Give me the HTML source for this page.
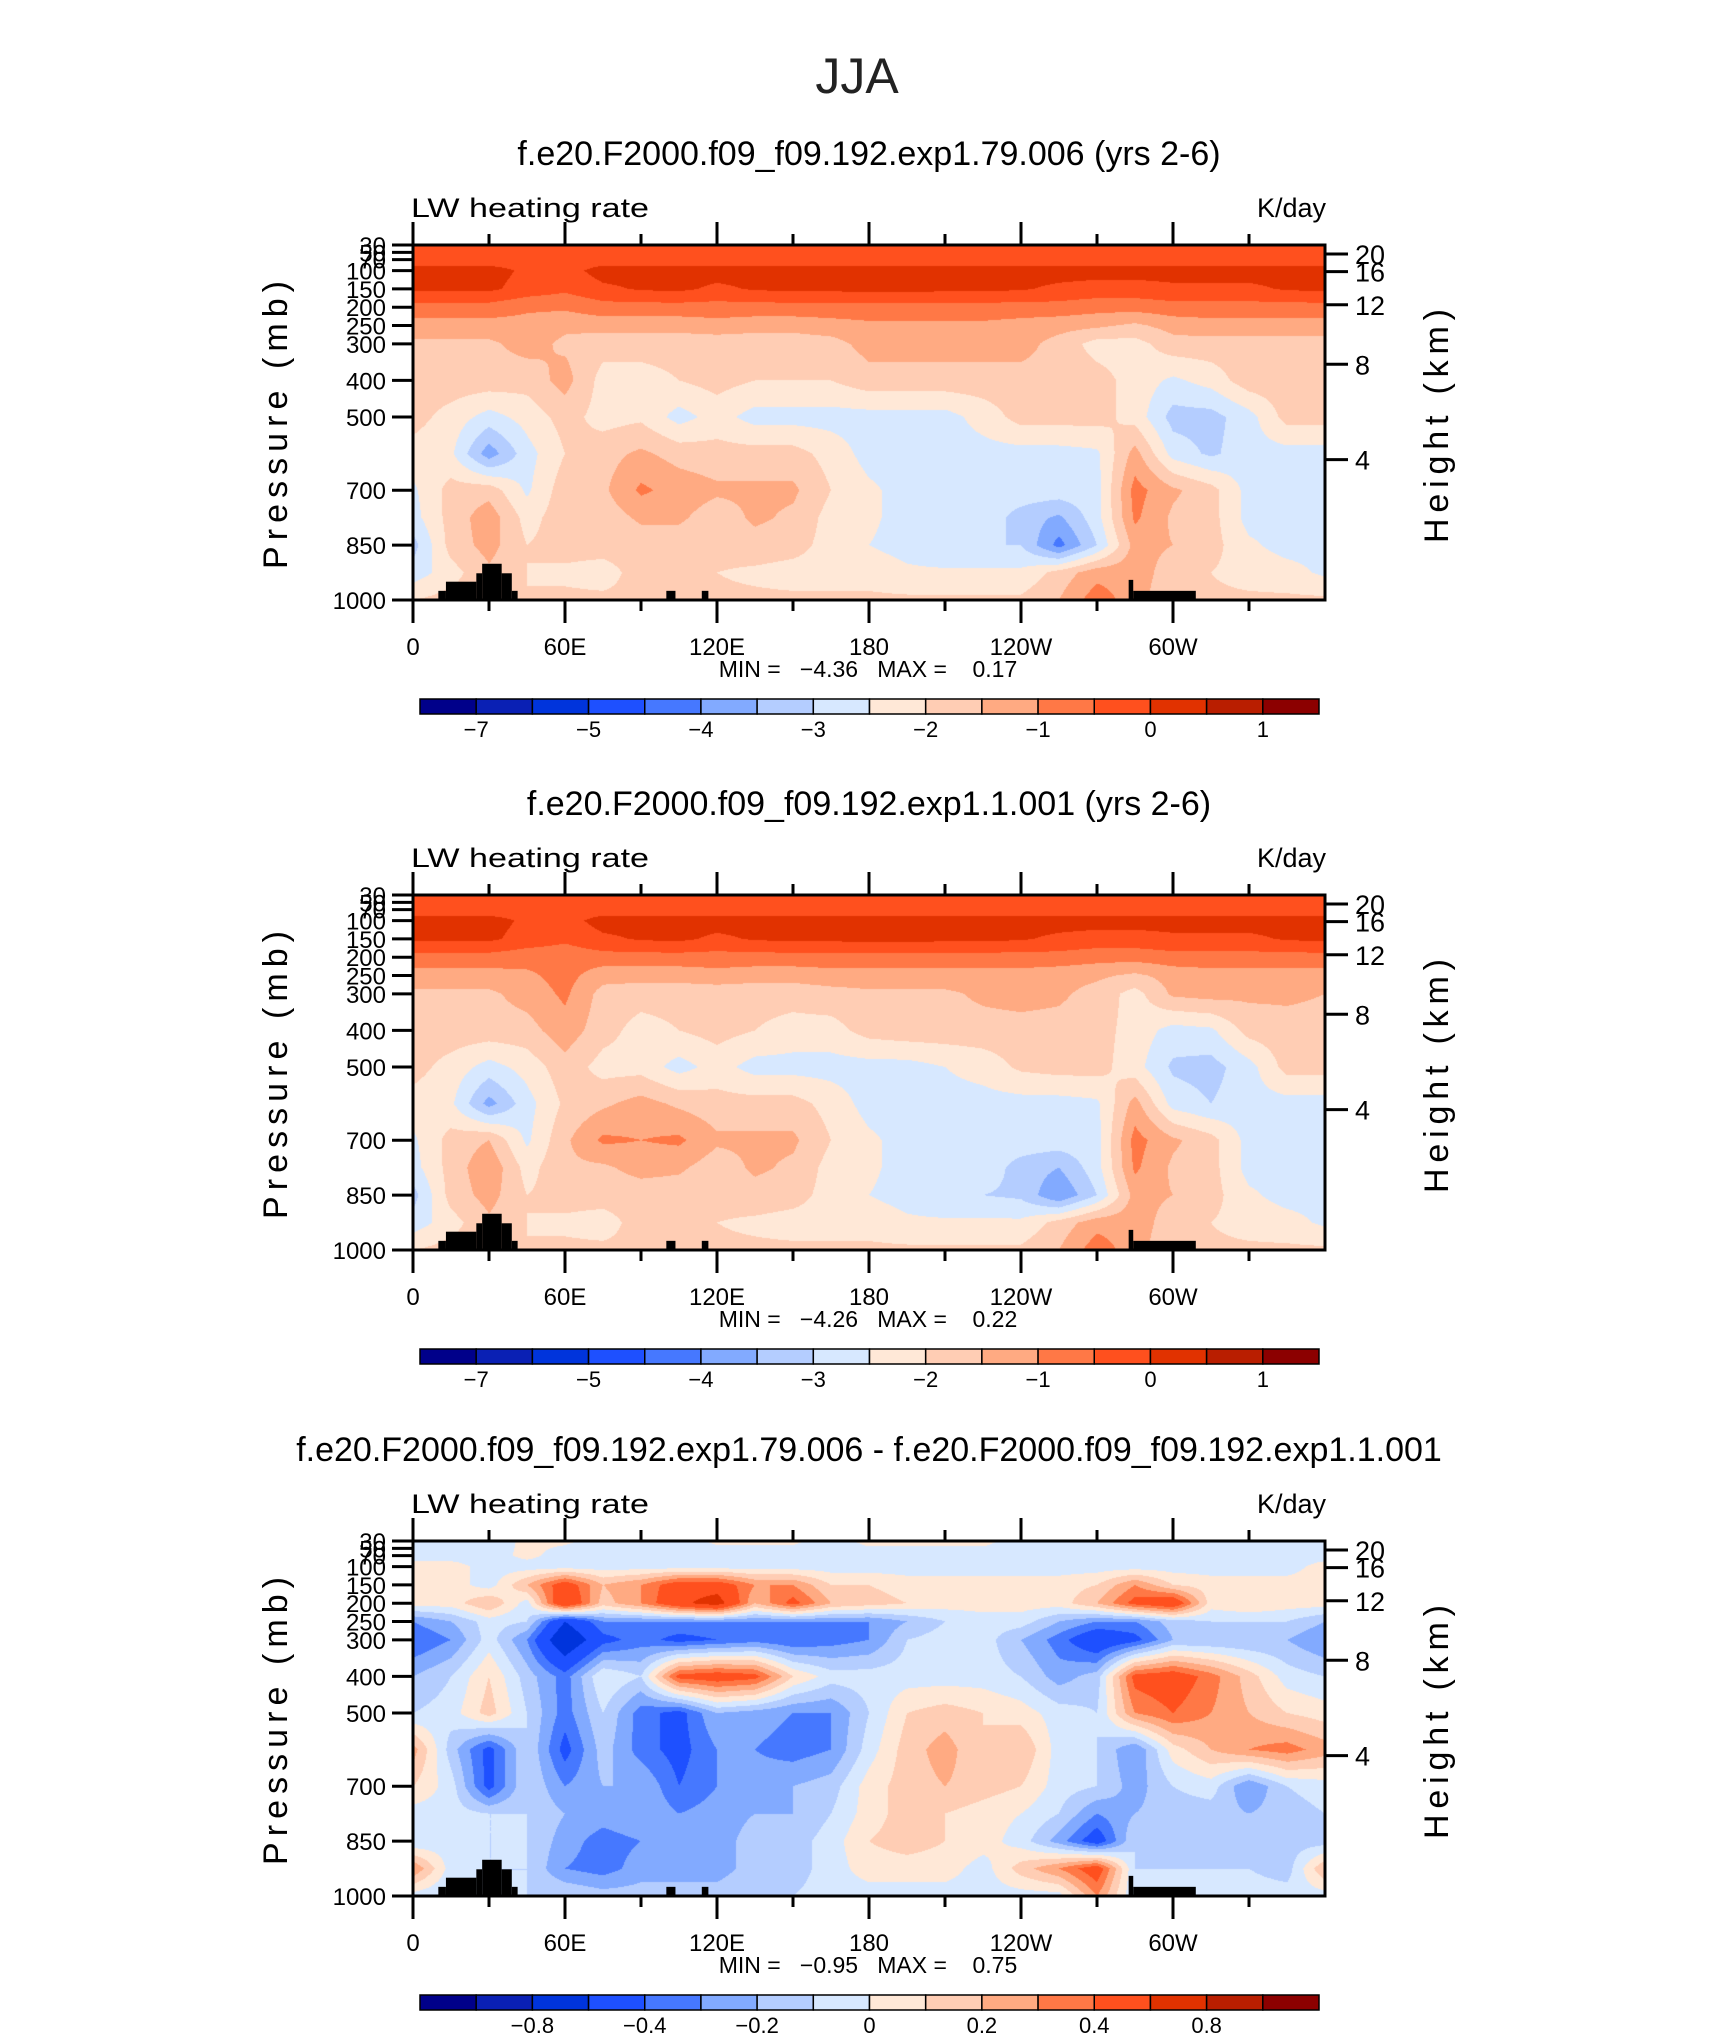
<!DOCTYPE html>
<html><head><meta charset="utf-8">
<style>
html,body{margin:0;padding:0;background:#fff;}
#wrap{position:relative;width:1710px;height:2038px;overflow:hidden;font-family:"Liberation Sans",sans-serif;}
canvas{position:absolute;}
svg{position:absolute;left:0;top:0;}
</style></head>
<body>
<div id="wrap">
<canvas id="c1"></canvas>
<canvas id="c2"></canvas>
<canvas id="c3"></canvas>
<svg id="svg" width="1710" height="2038">
<text x="857" y="93" font-size="50" text-anchor="middle" fill="#222" font-family="Liberation Sans, sans-serif">JJA</text>
</svg>
</div>
<script>
const lons=[0,15,30,45,60,75,90,105,120,135,150,165,180,195,210,225,240,255,270,285,300,315,330,345,360];
const plevs=[30,70,100,150,200,250,300,400,500,600,700,775,850,925,1000];
const colors=["#00008a","#0a20b4","#0034dc","#1e50ff","#4678ff","#82aaff","#b4cdff","#d7e8ff","#ffe8d7","#ffcdb4","#ffaa82","#ff7846","#ff501e","#e13200","#b91e00","#8c0000"];
const levels1=[-7,-6,-5,-4.5,-4,-3.5,-3,-2.5,-2,-1.5,-1,-0.5,0,0.5,1];
const levels3=[-1,-0.8,-0.6,-0.4,-0.3,-0.2,-0.1,0,0.1,0.2,0.3,0.4,0.6,0.8,1];
const cbLabels1=[["-7",1],["-5",3],["-4",5],["-3",7],["-2",9],["-1",11],["0",13],["1",15]];
const cbLabels3=[["-0.8",2],["-0.4",4],["-0.2",6],["0",8],["0.2",10],["0.4",12],["0.8",14]];
const lonTickLabels=["0","60E","120E","180","120W","60W"];
const lonTickValues=[0,60,120,180,240,300];
const pTickLabels=[30,50,70,100,150,200,250,300,400,500,700,850,1000];
const kmTicks=[4,8,12,16,20];
const land=[[10,13,975],[13,25,950],[25,27.3,927],[27.3,35,901],[35,39,927],[39,41.3,975],[100,103.6,975],[114,116.6,975],[282.5,284.3,945],[284.3,309,975]];
const field1=[
[-0.3,-0.3,-0.3,-0.3,-0.3,-0.3,-0.3,-0.3,-0.3,-0.3,-0.3,-0.3,-0.3,-0.3,-0.3,-0.3,-0.3,-0.3,-0.3,-0.3,-0.3,-0.3,-0.3,-0.3,-0.3],
[-0.25,-0.25,-0.25,-0.25,-0.25,-0.25,-0.25,-0.25,-0.25,-0.25,-0.25,-0.25,-0.25,-0.25,-0.25,-0.25,-0.25,-0.25,-0.25,-0.25,-0.25,-0.25,-0.25,-0.25,-0.25],
[0.2,0.2,0.2,-0.1,-0.2,0.2,0.2,0.2,0.2,0.2,0.2,0.2,0.2,0.2,0.2,0.2,0.2,0.2,0.2,0.2,0.2,0.2,0.2,0.2,0.2],
[0.1,0.1,0.1,-0.2,-0.4,-0.1,0.05,0.1,-0.1,0.05,0.1,0.1,0.15,0.15,0.1,0.1,0.05,-0.1,-0.2,-0.2,-0.1,-0.1,-0.1,0.05,0.1],
[-0.7,-0.7,-0.7,-0.9,-0.9,-0.7,-0.7,-0.7,-0.7,-0.7,-0.7,-0.7,-0.7,-0.7,-0.7,-0.7,-0.7,-0.7,-0.8,-0.8,-0.7,-0.7,-0.7,-0.7,-0.7],
[-1.2,-1.2,-1.2,-1.2,-1.4,-1.3,-1.3,-1.3,-1.2,-1.3,-1.3,-1.2,-1.1,-1.1,-1.1,-1.1,-1.2,-1.3,-1.4,-1.6,-1.3,-1.2,-1.2,-1.2,-1.2],
[-1.6,-1.6,-1.6,-1.3,-1.6,-1.8,-1.8,-1.8,-1.8,-1.8,-1.8,-1.7,-1.3,-1.3,-1.3,-1.3,-1.3,-1.7,-2.2,-2.2,-1.7,-1.7,-1.7,-1.7,-1.7],
[-1.7,-1.7,-1.7,-1.8,-1.3,-2.2,-2.2,-2.0,-1.8,-2.0,-2.0,-2.0,-1.7,-1.7,-1.7,-1.7,-1.7,-1.7,-1.8,-2.2,-2.6,-2.3,-1.7,-1.7,-1.7],
[-1.8,-2.2,-2.7,-2.3,-1.8,-2.2,-2.1,-2.7,-2.3,-2.7,-2.7,-2.7,-2.7,-2.7,-2.7,-2.3,-1.8,-1.8,-1.8,-2.2,-3.2,-3.2,-2.7,-1.8,-1.8],
[-2.2,-2.4,-3.8,-2.7,-2.0,-1.7,-1.4,-1.7,-1.8,-1.8,-1.8,-2.2,-2.7,-2.7,-2.7,-2.7,-2.7,-2.7,-2.6,-1.3,-2.7,-3.1,-2.7,-2.7,-2.7],
[-2.6,-1.8,-1.7,-2.6,-1.7,-1.6,-0.9,-1.2,-1.4,-1.4,-1.4,-2.0,-2.4,-2.7,-2.7,-2.7,-2.7,-2.7,-2.7,-0.8,-1.4,-1.8,-2.7,-2.7,-2.7],
[-2.7,-1.8,-1.2,-2.2,-1.7,-1.8,-1.4,-1.4,-1.8,-1.4,-1.6,-2.2,-2.4,-2.7,-2.7,-2.7,-3.2,-3.6,-2.7,-0.9,-1.6,-1.8,-2.7,-2.7,-2.7],
[-3.2,-1.8,-1.3,-2.0,-1.8,-1.8,-1.8,-1.8,-1.8,-1.7,-1.8,-2.2,-2.5,-2.7,-3.0,-3.0,-3.0,-4.2,-3.0,-1.3,-1.5,-1.8,-2.4,-2.7,-2.7],
[-2.8,-2.2,-1.6,-2.0,-2.1,-2.2,-1.8,-1.8,-2.0,-2.1,-2.2,-2.2,-2.2,-2.4,-2.4,-2.4,-2.4,-1.8,-1.2,-1.2,-1.8,-2.0,-2.2,-2.3,-2.6],
[-2.0,-1.8,-1.8,-2.0,-1.9,-1.9,-1.9,-1.9,-1.9,-1.9,-1.9,-1.9,-1.9,-1.9,-1.9,-1.9,-1.9,-1.5,-0.7,-1.3,-1.9,-1.9,-1.9,-1.9,-1.9]];
const field2=[
[-0.3,-0.3,-0.3,-0.3,-0.3,-0.3,-0.3,-0.3,-0.3,-0.3,-0.3,-0.3,-0.3,-0.3,-0.3,-0.3,-0.3,-0.3,-0.3,-0.3,-0.3,-0.3,-0.3,-0.3,-0.3],
[-0.25,-0.25,-0.25,-0.25,-0.25,-0.25,-0.25,-0.25,-0.25,-0.25,-0.25,-0.25,-0.25,-0.25,-0.25,-0.25,-0.25,-0.25,-0.25,-0.25,-0.25,-0.25,-0.25,-0.25,-0.25],
[0.2,0.2,0.2,-0.1,-0.2,0.2,0.2,0.2,0.2,0.2,0.2,0.2,0.2,0.2,0.2,0.2,0.2,0.2,0.2,0.2,0.2,0.2,0.2,0.2,0.2],
[0.1,0.1,0.1,-0.2,-0.4,-0.1,0.05,0.1,-0.1,0.05,0.1,0.1,0.15,0.15,0.1,0.1,0.05,-0.1,-0.2,-0.2,-0.1,-0.1,-0.1,0.05,0.1],
[-0.7,-0.7,-0.7,-0.8,-0.8,-0.7,-0.7,-0.7,-0.7,-0.7,-0.7,-0.7,-0.7,-0.7,-0.7,-0.7,-0.7,-0.7,-0.8,-0.8,-0.7,-0.7,-0.7,-0.7,-0.7],
[-1.2,-1.2,-1.2,-1.1,-0.8,-1.3,-1.3,-1.3,-1.2,-1.3,-1.3,-1.2,-1.2,-1.2,-1.2,-1.2,-1.2,-1.3,-1.4,-1.6,-1.3,-1.2,-1.2,-1.2,-1.2],
[-1.6,-1.6,-1.6,-1.3,-0.9,-1.7,-1.8,-1.8,-1.8,-1.8,-1.8,-1.7,-1.6,-1.6,-1.6,-1.4,-1.3,-1.4,-1.7,-2.2,-1.4,-1.3,-1.4,-1.4,-1.5],
[-1.7,-1.7,-1.7,-1.7,-1.2,-1.8,-2.2,-2.0,-1.8,-2.0,-2.2,-2.2,-1.8,-1.7,-1.7,-1.7,-1.7,-1.7,-1.8,-2.2,-2.7,-2.6,-1.8,-1.7,-1.7],
[-1.8,-2.2,-2.7,-2.3,-1.7,-2.2,-2.2,-2.7,-2.3,-2.7,-2.7,-2.7,-2.7,-2.7,-2.5,-2.3,-1.9,-1.8,-1.8,-2.3,-3.1,-3.2,-2.7,-1.8,-1.8],
[-2.2,-2.4,-3.7,-2.7,-1.9,-1.6,-1.3,-1.6,-1.8,-1.8,-1.8,-2.2,-2.7,-2.7,-2.7,-2.7,-2.7,-2.7,-2.6,-1.3,-2.7,-3.0,-2.7,-2.7,-2.7],
[-2.6,-1.8,-1.5,-2.6,-1.6,-0.9,-1.0,-0.9,-1.4,-1.4,-1.4,-2.0,-2.4,-2.7,-2.7,-2.7,-2.7,-2.7,-2.7,-0.8,-1.4,-1.8,-2.7,-2.7,-2.7],
[-2.7,-1.8,-1.1,-2.2,-1.6,-1.6,-1.3,-1.4,-1.8,-1.4,-1.6,-2.2,-2.4,-2.7,-2.7,-2.7,-3.2,-3.5,-2.7,-0.9,-1.6,-1.8,-2.7,-2.7,-2.7],
[-3.2,-1.8,-1.3,-2.0,-1.8,-1.8,-1.8,-1.8,-1.8,-1.7,-1.8,-2.2,-2.5,-2.7,-3.0,-3.0,-3.1,-4.0,-3.0,-1.3,-1.5,-1.8,-2.4,-2.7,-2.7],
[-2.8,-2.2,-1.6,-2.0,-2.1,-2.2,-1.8,-1.8,-2.0,-2.1,-2.2,-2.2,-2.2,-2.4,-2.4,-2.4,-2.4,-1.8,-1.2,-1.2,-1.8,-2.0,-2.2,-2.3,-2.6],
[-2.0,-1.8,-1.8,-2.0,-1.9,-1.9,-1.9,-1.9,-1.9,-1.9,-1.9,-1.9,-1.9,-1.9,-1.9,-1.9,-1.9,-1.5,-0.7,-1.3,-1.9,-1.9,-1.9,-1.9,-1.9]];
const field3=[
[-0.05,-0.05,-0.05,0.02,0.02,-0.05,-0.05,-0.05,0.02,0.02,0.02,-0.05,0.03,0.03,0.03,0.03,-0.05,-0.05,-0.05,-0.05,-0.05,-0.05,-0.05,-0.05,-0.05],
[-0.05,-0.05,-0.05,0.03,-0.05,-0.05,-0.05,-0.05,-0.05,-0.05,-0.05,-0.05,-0.05,-0.05,-0.05,-0.05,-0.05,-0.05,-0.05,-0.05,-0.05,-0.05,-0.05,-0.05,-0.05],
[0.05,0.05,-0.05,-0.05,-0.05,-0.05,-0.05,-0.05,-0.05,-0.05,-0.05,-0.05,-0.05,-0.05,-0.05,-0.05,-0.05,-0.05,-0.05,-0.05,-0.05,-0.05,-0.05,-0.05,0.05],
[0.05,0.05,-0.05,0.2,0.5,0.2,0.3,0.5,0.5,0.3,0.3,0.1,0.1,0.05,0.05,0.05,0.05,0.05,0.1,0.3,0.1,0.05,0.05,0.05,0.05],
[0.05,0.05,0.2,-0.05,0.6,0.15,0.3,0.55,0.7,0.2,0.45,0.2,0.15,0.1,0.05,0.05,0.05,0.05,0.2,0.45,0.55,0.05,0.1,0.05,0.05],
[-0.3,-0.2,-0.05,-0.1,-0.6,-0.3,-0.3,-0.3,-0.3,-0.3,-0.3,-0.3,-0.3,-0.2,-0.1,-0.05,-0.05,-0.2,-0.3,-0.3,-0.15,-0.1,-0.1,-0.1,-0.2],
[-0.4,-0.3,-0.05,-0.3,-0.8,-0.45,-0.35,-0.45,-0.4,-0.35,-0.4,-0.35,-0.3,-0.1,-0.05,-0.05,-0.2,-0.35,-0.55,-0.45,-0.2,-0.2,-0.2,-0.2,-0.3],
[-0.2,-0.1,0.1,-0.15,-0.35,0.0,-0.1,0.45,0.5,0.45,0.1,-0.05,-0.05,-0.05,-0.05,-0.05,-0.1,-0.25,-0.15,0.45,0.5,0.35,0.15,-0.05,-0.1],
[-0.1,-0.05,0.15,-0.1,-0.35,-0.1,-0.35,-0.45,-0.2,-0.25,-0.3,-0.3,-0.1,0.1,0.15,0.1,0.05,-0.05,-0.1,0.3,0.4,0.3,0.2,0.1,0.05],
[0.25,-0.15,-0.45,-0.1,-0.45,-0.15,-0.35,-0.45,-0.3,-0.3,-0.35,-0.3,-0.05,0.15,0.25,0.1,0.2,-0.05,-0.1,-0.3,0.05,0.2,0.3,0.35,0.25],
[0.1,-0.05,-0.45,-0.1,-0.3,-0.2,-0.2,-0.4,-0.3,-0.25,-0.2,-0.15,0.05,0.15,0.2,0.15,0.1,-0.05,-0.1,-0.25,-0.1,-0.05,-0.3,-0.1,-0.05],
[-0.05,-0.05,-0.1,-0.1,-0.2,-0.25,-0.2,-0.3,-0.25,-0.2,-0.2,-0.1,0.05,0.15,0.1,0.05,0.0,-0.1,-0.3,-0.2,-0.15,-0.15,-0.2,-0.15,-0.1],
[-0.1,-0.05,-0.1,-0.1,-0.25,-0.35,-0.3,-0.25,-0.25,-0.15,-0.15,-0.05,0.1,0.15,0.1,0.05,-0.05,-0.25,-0.5,-0.1,-0.15,-0.15,-0.15,-0.15,-0.15],
[0.3,-0.05,-0.1,-0.1,-0.3,-0.35,-0.25,-0.25,-0.25,-0.15,-0.15,-0.05,0.05,0.05,0.05,-0.05,0.15,0.3,0.5,-0.1,-0.1,-0.1,-0.1,-0.15,0.2],
[-0.05,-0.1,-0.1,-0.1,-0.1,-0.15,-0.15,-0.15,-0.15,-0.1,-0.1,-0.05,-0.05,-0.05,-0.05,-0.05,-0.05,-0.05,0.3,-0.1,-0.05,-0.05,-0.05,-0.05,-0.05]];
const titles=["f.e20.F2000.f09_f09.192.exp1.79.006 (yrs 2-6)","f.e20.F2000.f09_f09.192.exp1.1.001 (yrs 2-6)","f.e20.F2000.f09_f09.192.exp1.79.006 - f.e20.F2000.f09_f09.192.exp1.1.001"];
const minmax=[["-4.36","0.17"],["-4.26","0.22"],["-0.95","0.75"]];

const L=413,W=912,H=355,tops=[245,895,1541];
const NS="http://www.w3.org/2000/svg";
const svg=document.getElementById('svg');
function xOf(lon){return L+lon/360*W;}
function yOf(p,T){return T+(p-30)/970*H;}
function kmToP(z){z*=1000;return z<=11000?1013.25*Math.pow(1-2.25577e-5*z,5.25588):226.32*Math.exp(-(z-11000)/6341.6);}
function mk(tag,attrs,txt){const e=document.createElementNS(NS,tag);for(const k in attrs)e.setAttribute(k,attrs[k]);if(txt!==undefined)e.textContent=txt;svg.appendChild(e);return e;}
function valueAt(f,lon,p){
  let ci=Math.min(lons.length-2,Math.floor(lon/15));let fx=(lon-lons[ci])/15;
  let ri=0;while(ri<plevs.length-2&&p>plevs[ri+1])ri++;
  let fy=(p-plevs[ri])/(plevs[ri+1]-plevs[ri]);
  const a=f[ri][ci],b=f[ri][ci+1],c=f[ri+1][ci],d=f[ri+1][ci+1];
  return (a*(1-fx)+b*fx)*(1-fy)+(c*(1-fx)+d*fx)*fy;
}
function colorIdx(v,lev){let i=0;while(i<lev.length&&v>=lev[i])i++;return i;}
function hex(h){return [parseInt(h.slice(1,3),16),parseInt(h.slice(3,5),16),parseInt(h.slice(5,7),16)];}
const rgb=colors.map(hex);

function drawField(cid,f,lev,T){
  const cv=document.getElementById(cid);cv.width=W;cv.height=H;cv.style.left=L+'px';cv.style.top=T+'px';
  const ctx=cv.getContext('2d');const img=ctx.createImageData(W,H);
  for(let y=0;y<H;y++){const p=30+(y+0.5)/H*970;
    for(let x=0;x<W;x++){const lon=(x+0.5)/W*360;const c=rgb[colorIdx(valueAt(f,lon,p),lev)];
      const o=(y*W+x)*4;img.data[o]=c[0];img.data[o+1]=c[1];img.data[o+2]=c[2];img.data[o+3]=255;}}
  ctx.putImageData(img,0,0);
}

function panel(k,f,lev,cbl){
  const T=tops[k],B=T+H;
  drawField('c'+(k+1),f,lev,T);
  let e;
  for(const s of land){
    e=mk('rect',{x:xOf(s[0]),y:yOf(s[2],T),width:xOf(s[1])-xOf(s[0]),height:B-yOf(s[2],T),fill:'#000'});
    
    
  }
  e=mk('rect',{x:L,y:T,width:W,height:H,fill:'none',stroke:'#000','stroke-width':3});
  
  
  e=mk('text',{x:869,y:T-80,'font-size':34,'text-anchor':'middle',fill:'#000'},titles[k]);
  
  
  e=mk('text',{x:L-2,y:T-28,'font-size':27,fill:'#000','textLength':238,'lengthAdjust':'spacingAndGlyphs'},'LW heating rate');
  
  
  e=mk('text',{x:L+W+1,y:T-28,'font-size':27,'text-anchor':'end',fill:'#000'},'K/day');
  
  
  for(let lon=0;lon<360;lon+=30){
    const major=lon%60===0,len=major?23:11,x=xOf(lon);
    e=mk('line',{x1:x,y1:T,x2:x,y2:T-len,stroke:'#000','stroke-width':3});
    
    
    e=mk('line',{x1:x,y1:B,x2:x,y2:B+len,stroke:'#000','stroke-width':3});
    
    
  }
  lonTickValues.forEach((v,i)=>{
    e=mk('text',{x:xOf(v),y:B+55,'font-size':24,'text-anchor':'middle',fill:'#000'},lonTickLabels[i]);
    
    
  });
  e=mk('text',{x:868,y:B+77,'font-size':23,'text-anchor':'middle',fill:'#000',style:'white-space:pre'},'MIN =   '+minmax[k][0].replace('-','\u2212')+'   MAX =    '+minmax[k][1]);
  
  
  pTickLabels.forEach(p=>{const y=yOf(p,T);
    e=mk('line',{x1:L,y1:y,x2:L-21,y2:y,stroke:'#000','stroke-width':3});
    
    
    e=mk('text',{x:L-27,y:y+9,'font-size':24,'text-anchor':'end',fill:'#000'},String(p));
    
    
  });
  kmTicks.forEach(z=>{const y=yOf(kmToP(z),T);
    e=mk('line',{x1:L+W,y1:y,x2:L+W+23,y2:y,stroke:'#000','stroke-width':3});
    
    
    e=mk('text',{x:L+W+30,y:y+10,'font-size':27,fill:'#000'},String(z));
    
    
  });
  e=mk('text',{x:0,y:0,'font-size':34,'text-anchor':'middle',fill:'#000',transform:`translate(287,${T+180}) rotate(-90)`,'textLength':288,'lengthAdjust':'spacing'},'Pressure (mb)');
  
  
  e=mk('text',{x:0,y:0,'font-size':34,'text-anchor':'middle',fill:'#000',transform:`translate(1448,${T+181}) rotate(-90)`,'textLength':234,'lengthAdjust':'spacing'},'Height (km)');
  
  
  const cx=420,cw=899/16,cy=B+99;
  colors.forEach((c,i)=>{
    e=mk('rect',{x:cx+i*cw,y:cy,width:cw,height:15,fill:c,stroke:'#000','stroke-width':1.5});
    
    
  });
  cbl.forEach(l=>{
    e=mk('text',{x:cx+l[1]*cw,y:cy+38,'font-size':22,'text-anchor':'middle',fill:'#000'},l[0].replace('-','\u2212'));
    
    
  });
}
panel(0,field1,levels1,cbLabels1);
panel(1,field2,levels1,cbLabels1);
panel(2,field3,levels3,cbLabels3);
</script>
</body></html>
